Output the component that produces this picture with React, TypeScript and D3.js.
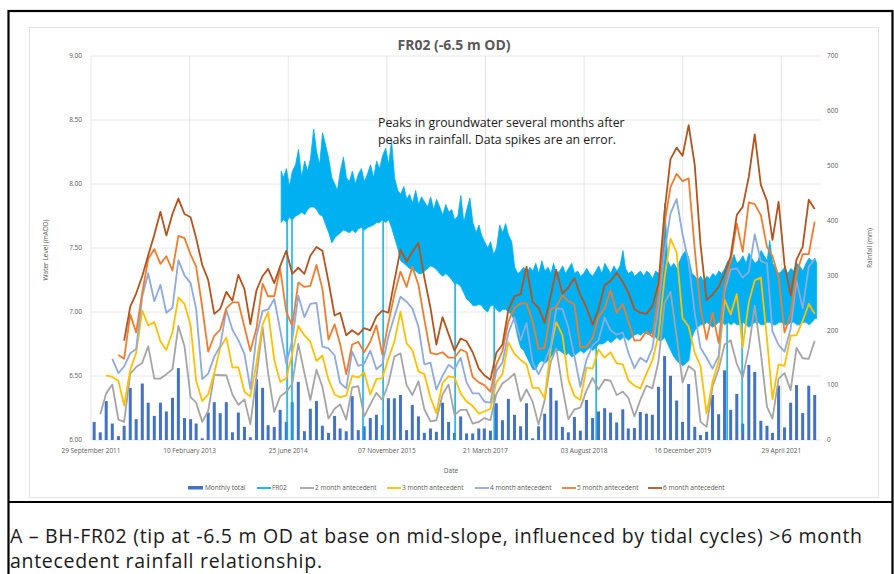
import React from 'react';
import * as d3 from 'd3';

// monthly rainfall totals (mm), one per month starting Oct 2011
const firstMonth = '2011-10-15';
const rainfall = [
  33, 14, 71, 30, 7, 26, 95, 38, 103, 68,
  44, 68, 52, 77, 131, 40, 38, 30, 3, 50,
  69, 49, 69, 14, 50, 24, 5, 111, 95, 27,
  24, 55, 33, 69, 106, 16, 57, 71, 26, 13,
  44, 21, 16, 80, 18, 25, 40, 46, 27, 76,
  76, 82, 18, 64, 43, 13, 21, 15, 68, 33,
  13, 43, 12, 12, 21, 21, 17, 67, 36, 75,
  46, 25, 67, 3, 25, 48, 95, 72, 24, 14,
  42, 17, 73, 40, 52, 58, 50, 32, 56, 21,
  22, 51, 48, 46, 97, 153, 117, 72, 33, 102,
  24, 9, 15, 82, 47, 127, 55, 84, 30, 137,
  124, 35, 26, 13, 99, 23, 68, 100, 49, 99,
  82,
];

const ante2 = [
  null, 47, 85, 101, 37, 33, 121, 133, 141, 171,
  112, 112, 120, 129, 208, 171, 78, 68, 33, 53,
  119, 118, 118, 83, 64, 74, 29, 116, 206, 122,
  51, 79, 88, 102, 175, 122, 73, 128, 97, 39,
  57, 65, 37, 96, 98, 43, 65, 86, 73, 103,
  152, 158, 100, 82, 107, 56, 34, 36, 83, 101,
  46, 55, 55, 30, 33, 40, 36, 84, 103, 111,
  121, 71, 92, 70, 28, 73, 143, 167, 96, 38,
  56, 59, 90, 113, 92, 110, 108, 82, 88, 77,
  43, 73, 99, 94, 143, 250, 270, 189, 105, 135,
  126, 33, 24, 97, 129, 174, 182, 139, 114, 167,
  245, 159, 61, 39, 112, 122, 91, 168, 149, 148,
  181,
];

const ante3 = [
  null, null, 118, 115, 108, 63, 128, 159, 236, 209,
  215, 180, 164, 197, 260, 248, 209, 108, 71, 83,
  122, 168, 187, 132, 133, 88, 79, 140, 211, 233,
  146, 106, 112, 157, 208, 191, 179, 144, 154, 110,
  83, 78, 81, 117, 114, 123, 83, 111, 113, 149,
  179, 234, 176, 164, 125, 120, 77, 49, 104, 116,
  114, 85, 70, 62, 48, 52, 57, 105, 120, 178,
  157, 146, 138, 95, 95, 76, 168, 215, 191, 110,
  80, 73, 132, 130, 165, 150, 160, 140, 138, 109,
  99, 94, 121, 145, 191, 296, 367, 342, 222, 207,
  159, 135, 48, 106, 144, 256, 229, 266, 169, 251,
  291, 296, 185, 74, 138, 135, 190, 191, 217, 248,
  230,
];

const ante4 = [
  null, null, null, 148, 122, 134, 158, 166, 262, 304,
  253, 283, 232, 241, 328, 300, 286, 239, 111, 121,
  152, 171, 237, 201, 182, 157, 93, 190, 235, 238,
  257, 201, 139, 181, 263, 224, 248, 250, 170, 167,
  154, 104, 94, 161, 135, 139, 163, 129, 138, 189,
  225, 261, 252, 240, 207, 138, 141, 92, 117, 137,
  129, 150, 105, 85, 85, 70, 68, 126, 141, 195,
  224, 182, 213, 141, 120, 143, 171, 240, 239, 205,
  152, 97, 146, 172, 182, 223, 200, 192, 196, 159,
  131, 150, 142, 167, 242, 344, 413, 439, 375, 324,
  231, 168, 150, 130, 153, 271, 311, 313, 296, 306,
  375, 326, 322, 198, 173, 161, 203, 290, 240, 316,
  330,
];

const ante5 = [
  null, null, null, null, 155, 148, 229, 196, 269, 330,
  348, 321, 335, 309, 372, 368, 338, 316, 242, 161,
  190, 201, 240, 251, 251, 206, 162, 204, 285, 262,
  262, 312, 234, 208, 287, 279, 281, 319, 276, 183,
  211, 175, 120, 174, 179, 160, 179, 209, 156, 214,
  265, 307, 279, 316, 283, 220, 159, 156, 160, 150,
  150, 165, 160, 115, 105, 100, 88, 138, 162, 216,
  241, 249, 249, 216, 166, 168, 238, 243, 264, 253,
  247, 169, 170, 186, 224, 240, 273, 232, 248, 217,
  181, 182, 198, 188, 264, 395, 461, 485, 472, 477,
  348, 240, 183, 232, 177, 280, 326, 395, 343, 433,
  430, 410, 352, 335, 297, 196, 229, 303, 339, 339,
  398,
];

const ante6 = [
  null, null, null, null, null, 181, 243, 267, 299, 337,
  374, 416, 373, 412, 440, 412, 406, 368, 319, 292,
  230, 239, 270, 254, 301, 275, 211, 273, 299, 312,
  286, 317, 345, 303, 314, 303, 336, 352, 345, 289,
  227, 232, 191, 200, 192, 204, 200, 225, 236, 232,
  290, 347, 325, 343, 359, 296, 241, 174, 224, 193,
  163, 185, 180, 160, 130, 118, 110, 159, 174, 237,
  262, 266, 316, 252, 241, 214, 263, 310, 267, 278,
  295, 264, 242, 210, 238, 282, 290, 305, 288, 269,
  239, 232, 230, 244, 285, 417, 512, 533, 518, 574,
  501, 357, 255, 265, 279, 304, 335, 410, 425, 480,
  557, 465, 436, 365, 434, 320, 264, 329, 352, 438,
  421,
];

// FR02 logger: [date, low, high] of the noisy trace (mAOD)
const fr02Band: [string, number, number][] = [
  ['2014-05-20', 7.70, 8.10],
  ['2014-06-01', 7.72, 8.05], ['2014-06-16', 7.70, 8.12],
  ['2014-07-01', 7.74, 7.98], ['2014-07-16', 7.72, 8.10],
  ['2014-08-01', 7.75, 8.15], ['2014-08-16', 7.76, 8.27],
  ['2014-09-01', 7.78, 8.05], ['2014-09-16', 7.76, 8.18],
  ['2014-10-01', 7.80, 8.10], ['2014-10-16', 7.82, 8.20],
  ['2014-11-01', 7.82, 8.43], ['2014-11-16', 7.80, 8.25],
  ['2014-12-01', 7.76, 8.15], ['2014-12-16', 7.75, 8.40],
  ['2015-01-01', 7.68, 8.30], ['2015-01-16', 7.62, 8.20],
  ['2015-02-01', 7.54, 8.05], ['2015-02-16', 7.58, 8.00],
  ['2015-03-01', 7.60, 7.95], ['2015-03-16', 7.62, 8.10],
  ['2015-04-01', 7.64, 8.21], ['2015-04-16', 7.63, 8.05],
  ['2015-05-01', 7.62, 8.02], ['2015-05-16', 7.64, 8.10],
  ['2015-06-01', 7.62, 8.00], ['2015-06-16', 7.65, 8.08],
  ['2015-07-01', 7.66, 8.12], ['2015-07-16', 7.64, 8.02],
  ['2015-08-01', 7.66, 8.08], ['2015-08-16', 7.67, 8.15],
  ['2015-09-01', 7.68, 8.05], ['2015-09-16', 7.70, 8.18],
  ['2015-10-01', 7.70, 8.12], ['2015-10-16', 7.72, 8.22],
  ['2015-11-01', 7.70, 8.28], ['2015-11-16', 7.72, 8.15],
  ['2015-12-01', 7.66, 8.34], ['2015-12-16', 7.58, 8.05],
  ['2016-01-01', 7.50, 7.95], ['2016-01-16', 7.40, 7.92],
  ['2016-02-01', 7.38, 7.98], ['2016-02-16', 7.36, 7.88],
  ['2016-03-01', 7.34, 7.92], ['2016-03-16', 7.33, 7.85],
  ['2016-04-01', 7.32, 7.95], ['2016-04-16', 7.30, 7.84],
  ['2016-05-01', 7.30, 7.90], ['2016-05-16', 7.32, 7.86],
  ['2016-06-01', 7.34, 7.82], ['2016-06-16', 7.36, 7.90],
  ['2016-07-01', 7.35, 7.80], ['2016-07-16', 7.33, 7.88],
  ['2016-08-01', 7.30, 7.82], ['2016-08-16', 7.28, 7.76],
  ['2016-09-01', 7.30, 7.84], ['2016-09-16', 7.28, 7.78],
  ['2016-10-01', 7.25, 7.80], ['2016-10-16', 7.22, 7.72],
  ['2016-11-01', 7.22, 7.75], ['2016-11-16', 7.20, 7.91],
  ['2016-12-01', 7.15, 7.70], ['2016-12-16', 7.10, 7.80],
  ['2017-01-01', 7.08, 7.89], ['2017-01-16', 7.05, 7.70],
  ['2017-02-01', 7.05, 7.62], ['2017-02-16', 7.06, 7.68],
  ['2017-03-01', 7.05, 7.60], ['2017-03-16', 7.02, 7.55],
  ['2017-04-01', 7.00, 7.50], ['2017-04-16', 7.05, 7.55],
  ['2017-05-01', 7.05, 7.45], ['2017-05-16', 7.02, 7.50],
  ['2017-06-01', 7.00, 7.68], ['2017-06-16', 7.02, 7.62],
  ['2017-07-01', 7.02, 7.69], ['2017-07-16', 7.00, 7.60],
  ['2017-08-01', 6.98, 7.55], ['2017-08-16', 6.92, 7.35],
  ['2017-09-01', 6.80, 7.30], ['2017-09-16', 6.72, 7.32],
  ['2017-10-01', 6.70, 7.35], ['2017-10-16', 6.65, 7.30],
  ['2017-11-01', 6.60, 7.35], ['2017-11-16', 6.55, 7.32],
  ['2017-12-01', 6.55, 7.38], ['2017-12-16', 6.60, 7.30],
  ['2018-01-01', 6.62, 7.40], ['2018-01-16', 6.60, 7.32],
  ['2018-02-01', 6.62, 7.35], ['2018-02-16', 6.65, 7.30],
  ['2018-03-01', 6.68, 7.38], ['2018-03-16', 6.70, 7.30],
  ['2018-04-01', 6.70, 7.32], ['2018-04-16', 6.68, 7.36],
  ['2018-05-01', 6.66, 7.30], ['2018-05-16', 6.68, 7.34],
  ['2018-06-01', 6.65, 7.38], ['2018-06-16', 6.66, 7.30],
  ['2018-07-01', 6.68, 7.32], ['2018-07-16', 6.70, 7.28],
  ['2018-08-01', 6.68, 7.30], ['2018-08-16', 6.70, 7.34],
  ['2018-09-01', 6.72, 7.30], ['2018-09-16', 6.70, 7.28],
  ['2018-10-01', 6.72, 7.32], ['2018-10-16', 6.75, 7.36],
  ['2018-11-01', 6.75, 7.30], ['2018-11-16', 6.76, 7.38],
  ['2018-12-01', 6.78, 7.34], ['2018-12-16', 6.76, 7.30],
  ['2019-01-01', 6.78, 7.36], ['2019-01-16', 6.80, 7.32],
  ['2019-02-01', 6.78, 7.36], ['2019-02-16', 6.80, 7.48],
  ['2019-03-01', 6.80, 7.34], ['2019-03-16', 6.78, 7.30],
  ['2019-04-01', 6.80, 7.32], ['2019-04-16', 6.82, 7.28],
  ['2019-05-01', 6.83, 7.30], ['2019-05-16', 6.82, 7.32],
  ['2019-06-01', 6.84, 7.28], ['2019-06-16', 6.83, 7.32],
  ['2019-07-01', 6.82, 7.30], ['2019-07-16', 6.84, 7.26],
  ['2019-08-01', 6.80, 7.32], ['2019-08-16', 6.78, 7.30],
  ['2019-09-01', 6.78, 7.36], ['2019-09-16', 6.80, 7.85],
  ['2019-10-01', 6.75, 7.40], ['2019-10-16', 6.70, 7.35],
  ['2019-11-01', 6.65, 7.38], ['2019-11-16', 6.62, 7.34],
  ['2019-12-01', 6.60, 7.40], ['2019-12-16', 6.58, 7.45],
  ['2020-01-01', 6.60, 7.48], ['2020-01-16', 6.62, 7.42],
  ['2020-02-01', 6.80, 7.30], ['2020-02-16', 6.86, 7.28],
  ['2020-03-01', 6.88, 7.25], ['2020-03-16', 6.90, 7.28],
  ['2020-04-01', 6.90, 7.24], ['2020-04-16', 6.92, 7.28],
  ['2020-05-01', 6.90, 7.26], ['2020-05-16', 6.88, 7.30],
  ['2020-06-01', 6.90, 7.28], ['2020-06-16', 6.92, 7.32],
  ['2020-07-01', 6.92, 7.30], ['2020-07-16', 6.90, 7.34],
  ['2020-08-01', 6.92, 7.40], ['2020-08-16', 6.90, 7.38],
  ['2020-09-01', 6.92, 7.45], ['2020-09-16', 6.90, 7.38],
  ['2020-10-01', 6.90, 7.40], ['2020-10-16', 6.92, 7.44],
  ['2020-11-01', 6.90, 7.38], ['2020-11-16', 6.88, 7.46],
  ['2020-12-01', 6.90, 7.42], ['2020-12-16', 6.92, 7.38],
  ['2021-01-01', 6.92, 7.40], ['2021-01-16', 6.90, 7.48],
  ['2021-02-01', 6.90, 7.44], ['2021-02-16', 6.92, 7.40],
  ['2021-03-01', 6.92, 7.56], ['2021-03-16', 6.90, 7.38],
  ['2021-04-01', 6.90, 7.34], ['2021-04-16', 6.92, 7.30],
  ['2021-05-01', 6.92, 7.32], ['2021-05-16', 6.90, 7.35],
  ['2021-06-01', 6.90, 7.30], ['2021-06-16', 6.92, 7.34],
  ['2021-07-01', 6.92, 7.32], ['2021-07-16', 6.90, 7.38],
  ['2021-08-01', 6.90, 7.36], ['2021-08-16', 6.92, 7.32],
  ['2021-09-01', 6.92, 7.38], ['2021-09-16', 6.90, 7.42],
  ['2021-10-01', 6.92, 7.40], ['2021-10-16', 6.95, 7.42],
  ['2021-10-25', 6.95, 7.38],
];

// erroneous drops in the logger record: [date, from, to]
const fr02Spikes: [string, number, number][] = [
  ['2014-06-19', 7.8, 6.0],
  ['2014-07-14', 7.8, 6.0],
  ['2015-07-09', 7.7, 6.0],
  ['2015-10-19', 7.8, 6.0],
  ['2016-10-18', 7.3, 6.0],
  ['2017-05-04', 7.1, 6.0],
  ['2018-10-03', 6.8, 6.0],
  ['2020-07-28', 6.95, 6.0],
  ['2020-10-12', 6.95, 6.05],
];

const xTickDates = ['2011-09-29', '2013-02-10', '2014-06-25', '2015-11-07', '2017-03-21', '2018-08-03', '2019-12-16', '2021-04-29'];
const leftTicks = [6, 6.5, 7, 7.5, 8, 8.5, 9];
const rightTicks = [0, 100, 200, 300, 400, 500, 600, 700];

const seriesNames = ['Monthly total', 'FR02', '2 month antecedent', '3 month antecedent', '4 month antecedent', '5 month antecedent', '6 month antecedent'];
const colors = ['#4472C4', '#00B0F0', '#A5A5A5', '#FFC000', '#8FAADC', '#ED7D31', '#B3541E'];
const legendX = [188, 257, 300, 387, 475, 562, 648];

const width = 894;
const height = 574;
const plot = { left: 91, right: 821, top: 56, bottom: 440 };

const parse = d3.utcParse('%Y-%m-%d');
const x = d3.scaleUtc()
  .domain([parse('2011-09-29') as Date, parse('2021-11-16') as Date])
  .range([plot.left, plot.right]);
const yL = d3.scaleLinear().domain([6, 9]).range([plot.bottom, plot.top]);
const yR = d3.scaleLinear().domain([0, 700]).range([plot.bottom, plot.top]);

const months = rainfall.map((_, i) => d3.utcMonth.offset(parse(firstMonth) as Date, i));
const fmtDate = d3.utcFormat('%d %B %Y');

const lineGen = d3.line<number | null>()
  .defined(d => d != null)
  .x((_, i) => x(months[i]))
  .y(d => yR(d as number));

const bandGen = d3.area<[string, number, number]>()
  .x(d => x(parse(d[0]) as Date))
  .y0(d => yL(d[1]))
  .y1(d => yL(d[2]));

const antecedents = [ante2, ante3, ante4, ante5, ante6];

const tickFont = { fontFamily: 'Open Sans, sans-serif', fontSize: 6.5, fill: '#595959' };

export default function App() {
  return (
    <svg width={width} height={height} style={{ position: 'absolute', left: 0, top: 0, background: '#fff' }}>
      <rect x={0} y={0} width={width} height={height} fill="#fff" />
      {/* outer frame */}
      <rect x={8.5} y={11} width={884} height={640} fill="none" stroke="#000" strokeWidth={2.2} />
      <line x1={8.5} x2={892.5} y1={502} y2={502} stroke="#000" strokeWidth={2.2} />
      <rect x={29.5} y={27.5} width={849} height={470} fill="none" stroke="#e3e3e3" strokeWidth={1} />

      {/* gridlines */}
      {leftTicks.map(t => (
        <line key={'h' + t} x1={plot.left} x2={plot.right} y1={yL(t)} y2={yL(t)} stroke="#e0e0e0" strokeWidth={0.8} />
      ))}
      {xTickDates.map(d => (
        <line key={'v' + d} x1={x(parse(d) as Date)} x2={x(parse(d) as Date)} y1={plot.top} y2={plot.bottom} stroke="#e0e0e0" strokeWidth={0.8} />
      ))}

      {/* rainfall bars */}
      {rainfall.map((v, i) => (
        <rect key={'b' + i} x={x(months[i]) - 1.5} width={3} y={yR(v)} height={yR(0) - yR(v)} fill={colors[0]} />
      ))}

      {/* FR02 */}
      <path d={bandGen(fr02Band) as string} fill={colors[1]} stroke={colors[1]} strokeWidth={0.8} strokeLinejoin="round" />
      {fr02Spikes.map(s => (
        <line key={'s' + s[0]} x1={x(parse(s[0]) as Date)} x2={x(parse(s[0]) as Date)} y1={yL(s[1])} y2={yL(s[2])} stroke={colors[1]} strokeWidth={1.5} />
      ))}

      {/* antecedent rainfall lines */}
      {antecedents.map((arr, j) => (
        <path key={'l' + j} d={lineGen(arr) as string} fill="none" stroke={colors[j + 2]} strokeWidth={1.8} strokeLinejoin="round" />
      ))}

      {/* axes labels */}
      {leftTicks.map(t => (
        <text key={'lt' + t} x={82} y={yL(t) + 2.3} textAnchor="end" {...tickFont}>{d3.format('.2f')(t)}</text>
      ))}
      {rightTicks.map(t => (
        <text key={'rt' + t} x={827} y={yR(t) + 2.3} textAnchor="start" {...tickFont}>{t}</text>
      ))}
      {xTickDates.map(d => (
        <text key={'xt' + d} x={x(parse(d) as Date)} y={452.5} textAnchor="middle" {...tickFont}>{fmtDate(parse(d) as Date)}</text>
      ))}
      <text x={451} y={473} textAnchor="middle" {...tickFont}>Date</text>
      <text transform="translate(48,250) rotate(-90)" textAnchor="middle" {...tickFont}>Water Level (mAOD)</text>
      <text transform="translate(872,248) rotate(-90)" textAnchor="middle" {...tickFont}>Rainfall (mm)</text>

      {/* title */}
      <text x={454} y={50} textAnchor="middle" fontFamily="Open Sans, sans-serif" fontWeight="bold" fontSize={14} fill="#595959">FR02 (-6.5 m OD)</text>

      {/* annotation */}
      <text fontFamily="Open Sans, sans-serif" fontSize={12.3} fill="#1a1a1a">
        <tspan x={378} y={127}>Peaks in groundwater several months after</tspan>
        <tspan x={378} y={144}>peaks in rainfall. Data spikes are an error.</tspan>
      </text>

      {/* legend */}
      {seriesNames.map((n, i) => (
        <g key={'lg' + i}>
          {i === 0
            ? <rect x={legendX[i]} y={486} width={15} height={3.5} fill={colors[i]} />
            : <line x1={legendX[i]} x2={legendX[i] + 14} y1={488} y2={488} stroke={colors[i]} strokeWidth={1.8} />}
          <text x={legendX[i] + (i === 0 ? 17 : 15)} y={490.3} {...tickFont}>{n}</text>
        </g>
      ))}

      {/* caption */}
      <text fontFamily="Open Sans, sans-serif" fontSize={19.5} fill="#1a1a1a">
        <tspan x={10} y={543} textLength={852} lengthAdjust="spacing">A – BH-FR02 (tip at -6.5 m OD at base on mid-slope, influenced by tidal cycles) &gt;6 month</tspan>
        <tspan x={10} y={568} textLength={312} lengthAdjust="spacing">antecedent rainfall relationship.</tspan>
      </text>
    </svg>
  );
}
